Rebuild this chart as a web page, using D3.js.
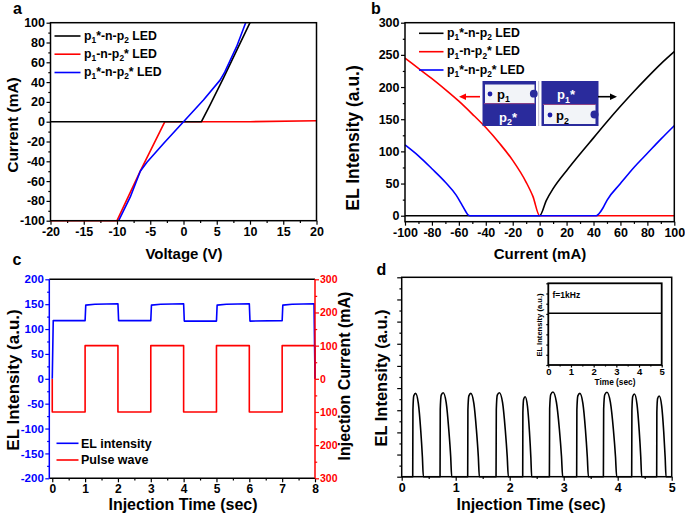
<!DOCTYPE html>
<html><head><meta charset="utf-8">
<script src="https://cdn.jsdelivr.net/npm/d3@7/dist/d3.min.js"></script>
<style>html,body{margin:0;padding:0;background:#fff;}</style>
</head><body><svg id="c" width="685" height="516"></svg>
<script>
// ---------- DATA ----------
// panel a : I-V curves
const aV_black = [-20, 2.7, 4, 6, 8, 10];
const aI_black = [0, 0, 17, 44, 72, 100];
const aV_red = [-20, -10, -6.5, -2.8, 10, 20];
const aI_red = [-100, -100, -50, 0, 0, 1];
const aV_blue = [-9.75, -8, -6.5, -5.5, -3, 0, 3, 5.5, 6.2, 8, 9.35];
const aI_blue = [-100, -76, -50, -41, -22, 0, 22, 42, 50, 76, 100];
// panel b : EL vs current
const bC_black = [-100, 0, 5, 10, 20, 30, 40, 50, 60, 70, 80, 90, 100];
const bE_black = [0, 0, 24, 42, 70, 96, 121, 146, 170, 193, 215, 236, 255];
const bC_red = [-100, -90, -80, -70, -60, -50, -40, -30, -20, -10, -5, 0, 100];
const bE_red = [245, 229, 213, 196, 178, 158, 137, 113, 86, 52, 30, 0, 0];
const bC_blue = [-100, -90, -80, -70, -62, -58, -55, -53, -52, 42, 44, 47, 50, 60, 70, 80, 90, 100];
const bE_blue = [110, 93, 73, 52, 32, 18, 7, 1, 0, 0, 3, 12, 24, 50, 75, 97, 119, 140];
// panel c : pulse response
const cT_el = [0, 0.03, 1, 1.02, 1.3, 2, 2.02, 3, 3.02, 3.3, 4, 4.02, 5, 5.02, 5.3, 6, 6.02, 7, 7.02, 7.3, 7.97, 8];
const cV_el = [0, 117, 117, 148, 150, 151, 117, 117, 148, 150, 151, 116, 116, 148, 150, 151, 116, 117, 148, 150, 151, 0];
const cT_pulse = [0, 0, 1, 1, 2, 2, 3, 3, 4, 4, 5, 5, 6, 6, 7, 7, 8, 8];
const cV_pulse = [0, -100, -100, 100, 100, -100, -100, 100, 100, -100, -100, 100, 100, -100, -100, 100, 100, 0];
const cLeftTicks = [-200, -150, -100, -50, 0, 50, 100, 150, 200];
const cRightTicks = [-300, -200, -100, 0, 100, 200, 300];
const cRightLabels = ["300", "200", "100", "0", "100", "200", "300"];
// panel d : EL pulses
const dTime = [0,
  0.204,0.208,0.224,0.257,0.308,0.352,0.383,0.401,
  0.710,0.714,0.732,0.768,0.824,0.872,0.907,0.926,
  1.222,1.226,1.244,1.280,1.336,1.384,1.419,1.438,
  1.747,1.752,1.770,1.809,1.868,1.918,1.954,1.975,
  2.241,2.244,2.258,2.286,2.329,2.366,2.392,2.407,
  2.735,2.740,2.760,2.801,2.865,2.920,2.959,2.981,
  3.240,3.244,3.262,3.299,3.355,3.403,3.437,3.457,
  3.735,3.740,3.760,3.801,3.865,3.920,3.959,3.981,
  4.259,4.263,4.278,4.309,4.357,4.398,4.427,4.444,
  4.722,4.725,4.739,4.769,4.814,4.852,4.879,4.895,
  5];
const dEL = [0,
  0,3.01,3.65,3.76,3.31,2.11,0.90,0,
  0,3.03,3.68,3.79,3.34,2.12,0.91,0,
  0,3.01,3.65,3.76,3.31,2.11,0.90,0,
  0,3.03,3.68,3.79,3.34,2.12,0.91,0,
  0,2.89,3.50,3.61,3.18,2.02,0.87,0,
  0,3.06,3.71,3.82,3.36,2.14,0.92,0,
  0,3.01,3.65,3.76,3.31,2.11,0.90,0,
  0,3.05,3.70,3.81,3.35,2.13,0.91,0,
  0,2.98,3.62,3.73,3.28,2.09,0.90,0,
  0,2.91,3.53,3.64,3.20,2.04,0.87,0,
  0];
const insetT = [0, 5];
const insetV = [0.633, 0.633];
const legendLabels = ["p1*-n-p2 LED", "p1-n-p2* LED", "p1*-n-p2* LED"];
const legendColors = ["#000000", "#ff0000", "#0000ff"];

// ---------- DRAW ----------
const FONT = "'Liberation Sans', Arial, Helvetica, sans-serif";
const svg = d3.select("#c").style("font-family", FONT).style("font-weight", "bold");
const zip = (a, b) => a.map((v, i) => [v, b[i]]);

function richText(parent, str, x, y, size, color) {
  const t = parent.append("text").attr("x", x).attr("y", y)
    .attr("font-size", size).attr("fill", color || "#000").attr("font-weight", "bold");
  const parts = str.split(/(\d)/).filter(s => s.length);
  let shifted = false;
  parts.forEach(p => {
    if (/^\d$/.test(p)) {
      t.append("tspan").text(p).attr("font-size", size * 0.68).attr("dy", size * 0.28);
      shifted = true;
    } else {
      const ts = t.append("tspan").text(p);
      if (shifted) { ts.attr("dy", -size * 0.28); shifted = false; }
    }
  });
  return t;
}

function styleAxis(g, color, fs) {
  g.select(".domain").remove();
  g.selectAll("line").attr("stroke", color).attr("stroke-width", 1.2);
  g.selectAll("text").attr("fill", color).attr("font-size", fs)
    .attr("font-family", FONT).attr("font-weight", "bold");
}

function axis(kind, scale, pos, major, minor, fmt, color, fs, majLen, minLen, pad) {
  color = color || "#000"; fs = fs || 12.5;
  majLen = majLen || 4; minLen = minLen || 2.2;
  const mk = { bottom: d3.axisBottom, left: d3.axisLeft, right: d3.axisRight }[kind];
  const tr = kind === "bottom" ? `translate(0,${pos})` : `translate(${pos},0)`;
  if (minor && minor.length) {
    const gm = svg.append("g").attr("transform", tr)
      .call(mk(scale).tickValues(minor).tickSize(minLen).tickFormat("").tickSizeOuter(0));
    styleAxis(gm, color, fs);
  }
  const g = svg.append("g").attr("transform", tr)
    .call(mk(scale).tickValues(major).tickSize(majLen)
      .tickPadding(pad != null ? pad : (kind === "bottom" ? 2 : 1.5))
      .tickFormat(fmt || (d => d)).tickSizeOuter(0));
  styleAxis(g, color, fs);
  return g;
}

function frame(x0, x1, y0, y1, w) {
  svg.append("rect").attr("x", x0).attr("y", y0).attr("width", x1 - x0).attr("height", y1 - y0)
    .attr("fill", "none").attr("stroke", "#000").attr("stroke-width", w || 1.5);
}

function line(xs, ys, x, y, color, curve, w) {
  svg.append("path").datum(zip(xs, ys))
    .attr("d", d3.line().x(d => x(d[0])).y(d => y(d[1])).curve(curve || d3.curveLinear))
    .attr("fill", "none").attr("stroke", color).attr("stroke-width", w || 1.6)
    .attr("stroke-linejoin", "round");
}

function title(txt, x, y, size, rot) {
  const t = svg.append("text").text(txt).attr("font-size", size).attr("font-weight", "bold")
    .attr("text-anchor", "middle").attr("fill", "#000");
  if (rot) t.attr("transform", `translate(${x},${y}) rotate(-90)`).attr("dy", "0.35em");
  else t.attr("x", x).attr("y", y);
}

function range(a, b, s) { const r = []; for (let v = a; v <= b + 1e-9; v += s) r.push(+v.toFixed(4)); return r; }

// ===== Panel a =====
{
  const x = d3.scaleLinear([-20, 20], [50.5, 316.5]);
  const y = d3.scaleLinear([-100, 100], [220.7, 22.7]);
  axis("bottom", x, 220.7, range(-20, 20, 5), range(-17.5, 17.5, 5));
  axis("left", y, 50.5, range(-100, 100, 20), range(-90, 90, 20));
  line(aV_red, aI_red, x, y, "#ff0000");
  line(aV_black, aI_black, x, y, "#000000");
  line(aV_blue, aI_blue, x, y, "#0000ff");
  frame(50.5, 316.5, 22.7, 220.7);
  const ly = [36, 54.2, 72.5];
  legendLabels.forEach((lb, i) => {
    svg.append("line").attr("x1", 54.5).attr("x2", 80.5).attr("y1", ly[i]).attr("y2", ly[i])
      .attr("stroke", legendColors[i]).attr("stroke-width", 1.6);
    richText(svg, lb, 84, ly[i] + 3.5, 12.3);
  });
  title("Voltage (V)", 184, 259, 15);
  title("Current (mA)", 13, 125, 15.5, true);
  svg.append("text").text("a").attr("x", 13).attr("y", 14).attr("font-size", 16).attr("font-weight", "bold");
}

// ===== Panel b =====
{
  const x = d3.scaleLinear([-100, 100], [405, 674.3]);
  const y = d3.scaleLinear([-9.3, 300], [221.7, 22.7]);
  axis("bottom", x, 221.7, range(-100, 100, 20), range(-90, 90, 20));
  axis("left", y, 405, range(0, 300, 50), range(25, 275, 50));
  line(bC_black, bE_black, x, y, "#000000", d3.curveMonotoneX);
  line(bC_red, bE_red, x, y, "#ff0000", d3.curveMonotoneX);
  line(bC_blue, bE_blue, x, y, "#0000ff", d3.curveMonotoneX);
  frame(405, 674.3, 22.7, 221.7);
  const ly = [33.3, 51.7, 70];
  legendLabels.forEach((lb, i) => {
    svg.append("line").attr("x1", 419).attr("x2", 443.5).attr("y1", ly[i]).attr("y2", ly[i])
      .attr("stroke", legendColors[i]).attr("stroke-width", 1.6);
    richText(svg, lb, 447, ly[i] + 3.5, 12.3);
  });
  // device photo insets
  const dark = "#2a2b9c", white = "#f2f4f8";
  const g = svg.append("g");
  g.append("rect").attr("x", 482.5).attr("y", 81).attr("width", 53.5).attr("height", 45).attr("fill", dark);
  g.append("rect").attr("x", 485).attr("y", 84.5).attr("width", 49.5).attr("height", 18.5).attr("fill", white);
  g.append("circle").attr("cx", 533.8).attr("cy", 93.7).attr("r", 3.9).attr("fill", dark);
  g.append("circle").attr("cx", 490).attr("cy", 94).attr("r", 2.4).attr("fill", "#1c1ca8");
  g.append("line").attr("x1", 484).attr("x2", 535).attr("y1", 103.6).attr("y2", 103.6).attr("stroke", "#c0507a").attr("stroke-width", 0.7);
  richText(g, "p1", 497, 98.5, 13, "#000");
  richText(g, "p2*", 499, 121.5, 13, "#ffffff");
  g.append("line").attr("x1", 538.7).attr("x2", 538.7).attr("y1", 81).attr("y2", 126).attr("stroke", "#aab").attr("stroke-width", 0.8);
  g.append("rect").attr("x", 541.5).attr("y", 81).attr("width", 57).attr("height", 45).attr("fill", dark);
  g.append("rect").attr("x", 544).attr("y", 105).attr("width", 51.5).attr("height", 19).attr("fill", white);
  g.append("circle").attr("cx", 594.5).attr("cy", 114.5).attr("r", 4).attr("fill", dark);
  g.append("circle").attr("cx", 550).attr("cy", 115).attr("r", 2.4).attr("fill", "#1c1ca8");
  g.append("line").attr("x1", 543).attr("x2", 596).attr("y1", 104.5).attr("y2", 104.5).attr("stroke", "#c0507a").attr("stroke-width", 0.7);
  richText(g, "p1*", 557, 99, 13, "#ffffff");
  richText(g, "p2", 556, 120, 13, "#000");
  // arrows
  g.append("line").attr("x1", 480).attr("x2", 464).attr("y1", 96.7).attr("y2", 96.7).attr("stroke", "#ff0000").attr("stroke-width", 1.6);
  g.append("path").attr("d", "M459,96.7 L466,93.5 L466,99.9 Z").attr("fill", "#ff0000");
  g.append("line").attr("x1", 598).attr("x2", 611).attr("y1", 96.7).attr("y2", 96.7).attr("stroke", "#000").attr("stroke-width", 1.6);
  g.append("path").attr("d", "M617,96.7 L610,93.5 L610,99.9 Z").attr("fill", "#000");

  title("Current (mA)", 540, 259, 15);
  title("EL Intensity (a.u.)", 353, 138, 17.5, true);
  svg.append("text").text("b").attr("x", 371).attr("y", 14).attr("font-size", 16).attr("font-weight", "bold");
}

// ===== Panel c =====
{
  const x = d3.scaleLinear([-0.09, 8], [49.3, 315]);
  const yL = d3.scaleLinear([-200, 200], [478.3, 279.3]);
  const yR = d3.scaleLinear([-300, 300], [478.3, 279.3]);
  axis("bottom", x, 478.3, range(0, 8, 1), range(0.5, 7.5, 1), null, "#000", 12);
  axis("left", yL, 49.3, cLeftTicks, range(-175, 175, 50), null, "#0000ff", 11.5);
  axis("right", yR, 315, cRightTicks, range(-250, 250, 100), (d, i) => cRightLabels[i], "#ff0000", 10.5, 4, 2.2, 1);
  line(cT_pulse, cV_pulse, x, yR, "#ff0000", d3.curveLinear, 1.6);
  line(cT_el, cV_el, x, yL, "#0000ff", d3.curveLinear, 1.6);
  svg.append("line").attr("x1", 49.3).attr("x2", 315).attr("y1", 279.3).attr("y2", 279.3).attr("stroke", "#000").attr("stroke-width", 1.5);
  svg.append("line").attr("x1", 49.3).attr("x2", 315).attr("y1", 478.3).attr("y2", 478.3).attr("stroke", "#000").attr("stroke-width", 1.5);
  svg.append("line").attr("x1", 49.3).attr("x2", 49.3).attr("y1", 279.3).attr("y2", 478.3).attr("stroke", "#0000ff").attr("stroke-width", 1.5);
  svg.append("line").attr("x1", 315).attr("x2", 315).attr("y1", 279.3).attr("y2", 478.3).attr("stroke", "#ff0000").attr("stroke-width", 1.5);
  const leg = [["EL intensity", "#0000ff", 443.3], ["Pulse wave", "#ff0000", 460]];
  leg.forEach(l => {
    svg.append("line").attr("x1", 56.5).attr("x2", 78.5).attr("y1", l[2]).attr("y2", l[2]).attr("stroke", l[1]).attr("stroke-width", 1.6);
    svg.append("text").text(l[0]).attr("x", 81).attr("y", l[2] + 4.3).attr("font-size", 12.5).attr("font-weight", "bold");
  });
  title("Injection Time (sec)", 183, 510, 16);
  title("EL Intensity (a.u.)", 13, 380, 17, true);
  title("Injection Current (mA)", 344.5, 376, 16, true);
  svg.append("text").text("c").attr("x", 12.5).attr("y", 265).attr("font-size", 16).attr("font-weight", "bold");
}

// ===== Panel d =====
{
  const x = d3.scaleLinear([0, 5], [401.7, 671.7]);
  const y = d3.scaleLinear([0, 9], [476.7, 277.3]);
  axis("bottom", x, 476.7, range(0, 5, 1), range(0.5, 4.5, 1));
  axis("left", y, 401.7, range(0, 9, 1), range(0.5, 8.5, 1), () => "", "#000", 12.5, 4.5, 2.3);
  line(dTime, dEL, x, y, "#000000", d3.curveMonotoneX, 1.6);
  frame(401.7, 671.7, 277.3, 476.7);
  // inset
  const ix = d3.scaleLinear([0, 5], [548.3, 661.7]);
  const iy = d3.scaleLinear([0, 1], [365, 283.3]);
  svg.append("rect").attr("x", 548.3).attr("y", 283.3).attr("width", 113.4).attr("height", 81.7).attr("fill", "#fff");
  axis("bottom", ix, 365, range(0, 5, 1), range(0.5, 4.5, 1), null, "#000", 9.5, 2.5, 1.5, 1);
  axis("left", iy, 548.3, range(0, 1, 0.125), [], () => "", "#000", 8, 2, 1.5);
  line(insetT, insetV, ix, iy, "#000000", d3.curveLinear, 1.5);
  frame(548.3, 661.7, 283.3, 365, 1.8);
  svg.append("text").text("f=1kHz").attr("x", 552.5).attr("y", 297.5).attr("font-size", 8.5).attr("font-weight", "bold");
  title("Time (sec)", 615, 384.5, 8.3);
  title("EL Intensity (a.u.)", 539, 325, 7.6, true);
  title("Injection Time (sec)", 531, 510, 16);
  title("EL Intensity (a.u.)", 381, 378, 16.5, true);
  svg.append("text").text("d").attr("x", 376.5).attr("y", 275).attr("font-size", 16).attr("font-weight", "bold");
}
</script></body></html>
